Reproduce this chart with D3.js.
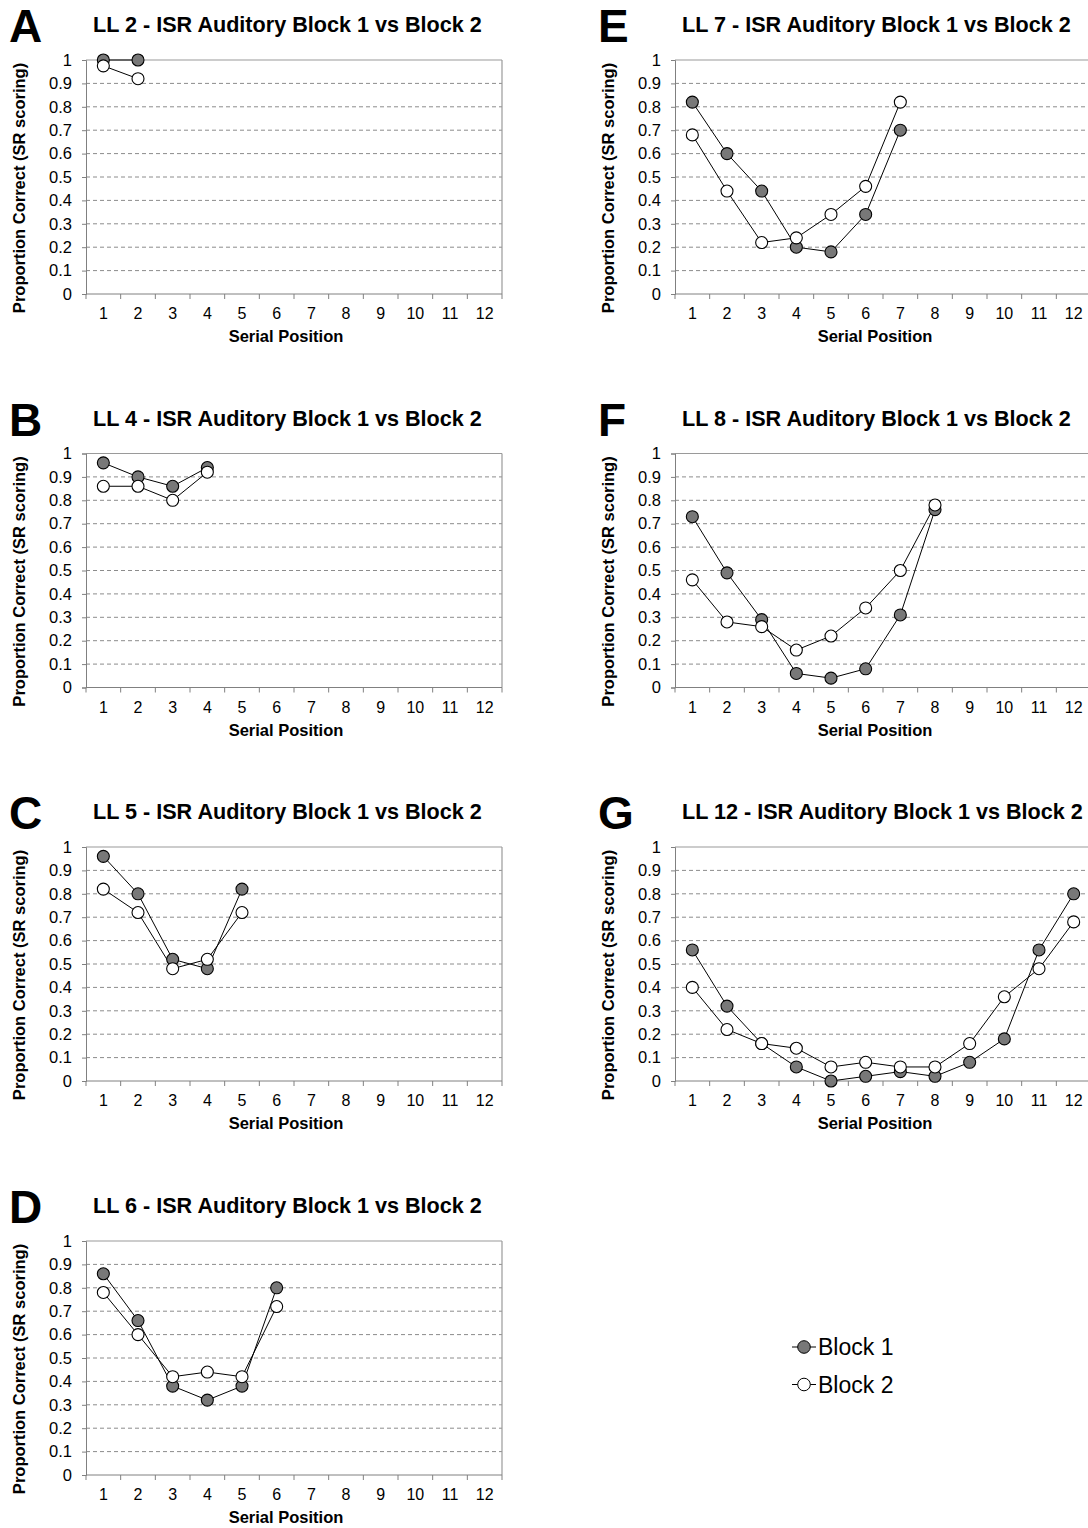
<!DOCTYPE html>
<html><head><meta charset="utf-8">
<script src="https://cdn.jsdelivr.net/npm/d3@7"></script>
<style>
body{margin:0;background:#fff;}
text{font-family:"Liberation Sans",Arial,sans-serif;fill:#000;}
</style></head>
<body>
<svg id="chart" width="1088" height="1528"></svg>
<script>
const categories = [1,2,3,4,5,6,7,8,9,10,11,12];
const yTicks = [0,0.1,0.2,0.3,0.4,0.5,0.6,0.7,0.8,0.9,1];
const panelLetters = ["A","B","C","D","E","F","G"];
const panelTitles = [
  "LL 2 - ISR Auditory Block 1 vs Block 2",
  "LL 4 - ISR Auditory Block 1 vs Block 2",
  "LL 5 - ISR Auditory Block 1 vs Block 2",
  "LL 6 - ISR Auditory Block 1 vs Block 2",
  "LL 7 - ISR Auditory Block 1 vs Block 2",
  "LL 8 - ISR Auditory Block 1 vs Block 2",
  "LL 12 - ISR Auditory Block 1 vs Block 2"
];
const block1 = [
  [1.00, 1.00],
  [0.96, 0.90, 0.86, 0.94],
  [0.96, 0.80, 0.52, 0.48, 0.82],
  [0.86, 0.66, 0.38, 0.32, 0.38, 0.80],
  [0.82, 0.60, 0.44, 0.20, 0.18, 0.34, 0.70],
  [0.73, 0.49, 0.29, 0.06, 0.04, 0.08, 0.31, 0.76],
  [0.56, 0.32, 0.16, 0.06, 0.00, 0.02, 0.04, 0.02, 0.08, 0.18, 0.56, 0.80]
];
const block2 = [
  [0.975, 0.92],
  [0.86, 0.86, 0.80, 0.92],
  [0.82, 0.72, 0.48, 0.52, 0.72],
  [0.78, 0.60, 0.42, 0.44, 0.42, 0.72],
  [0.68, 0.44, 0.22, 0.24, 0.34, 0.46, 0.82],
  [0.46, 0.28, 0.26, 0.16, 0.22, 0.34, 0.50, 0.78],
  [0.40, 0.22, 0.16, 0.14, 0.06, 0.08, 0.06, 0.06, 0.16, 0.36, 0.48, 0.68]
];
const seriesNames = ["Block 1","Block 2"];
const seriesFills = ["#787878","#ffffff"];

const svg = d3.select("#chart");
const W = 416, H = 234;
const colX = [86, 675];
const rowY = [60, 453.5, 847, 1241];

const x = d3.scaleBand().domain(categories).range([0, W]).paddingInner(0).paddingOuter(0);
const y = d3.scaleLinear().domain([0,1]).range([H,0]);

panelTitles.forEach((title, i) => {
  const col = i < 4 ? 0 : 1;
  const row = i < 4 ? i : i - 4;
  const g = svg.append("g").attr("transform", `translate(${colX[col]},${rowY[row]})`);

  // gridlines (dashed)
  g.selectAll(".grid").data(yTicks.filter(t => t > 0 && t < 1)).enter().append("line")
    .attr("x1", 0).attr("x2", W).attr("y1", d => y(d)).attr("y2", d => y(d))
    .attr("stroke", "#8c8c8c").attr("stroke-width", 1).attr("stroke-dasharray", "4,3");
  // plot border top/right
  g.append("line").attr("x1",0).attr("x2",W).attr("y1",y(1)).attr("y2",y(1)).attr("stroke","#9a9a9a").attr("stroke-width",1.2);
  g.append("line").attr("x1",W).attr("x2",W).attr("y1",y(1)).attr("y2",y(0)).attr("stroke","#9a9a9a").attr("stroke-width",1.2);

  // y axis
  const yAxis = d3.axisLeft(y).tickValues(yTicks).tickSize(4).tickPadding(10)
    .tickFormat(d => d3.format("")(+d.toFixed(1)));
  const ya = g.append("g").call(yAxis);
  ya.select(".domain").attr("stroke", "#808080");
  ya.selectAll(".tick line").attr("stroke", "#808080");
  ya.selectAll(".tick text").attr("font-size", 16.5).attr("font-family", '"Liberation Sans",Arial,sans-serif').attr("fill","#000");

  // x axis: labels at band centers, ticks at band boundaries
  const xa = g.append("g").attr("transform", `translate(0,${H})`);
  xa.append("line").attr("x1",0).attr("x2",W).attr("y1",0).attr("y2",0).attr("stroke","#808080");
  const bounds = categories.map(c => x(c)).concat([x(categories[categories.length-1]) + x.step()]);
  xa.selectAll(".xt").data(bounds).enter().append("line")
    .attr("x1", d => d).attr("x2", d => d).attr("y1", 0).attr("y2", 5).attr("stroke", "#808080");
  xa.selectAll(".xl").data(categories).enter().append("text")
    .attr("x", d => x(d) + x.bandwidth()/2).attr("y", 25)
    .attr("text-anchor","middle").attr("font-size",16).text(d => d);

  // axis titles
  g.append("text").attr("x", W/2 - 8).attr("y", H + 48).attr("text-anchor","middle")
    .attr("font-size", 16.5).attr("font-weight","bold").text("Serial Position");
  g.append("text").attr("transform", `translate(-61,${128}) rotate(-90)`).attr("text-anchor","middle")
    .attr("font-size", 16.5).attr("font-weight","bold").text("Proportion Correct (SR scoring)");

  // titles
  g.append("text").attr("x", 7).attr("y", -28).attr("font-size", 21.6).attr("font-weight","bold").text(title);
  g.append("text").attr("x", -77).attr("y", -18).attr("font-size", 46).attr("font-weight","bold").text(panelLetters[i]);

  // series
  const line = d3.line().x((d,j) => x(categories[j]) + x.bandwidth()/2).y(d => y(d));
  [block1[i], block2[i]].forEach((vals, s) => {
    g.append("path").datum(vals).attr("d", line).attr("fill","none").attr("stroke","#000").attr("stroke-width",1);
  });
  [block1[i], block2[i]].forEach((vals, s) => {
    g.selectAll(".pt"+s).data(vals).enter().append("circle")
      .attr("cx", (d,j) => x(categories[j]) + x.bandwidth()/2).attr("cy", d => y(d))
      .attr("r", 6).attr("fill", seriesFills[s]).attr("stroke","#000").attr("stroke-width",1.1);
  });
});

// legend
const lg = svg.append("g").attr("transform","translate(792,1347)");
seriesNames.forEach((name, s) => {
  const row = lg.append("g").attr("transform", `translate(0,${s*37.5})`);
  row.append("line").attr("x1",0).attr("x2",24).attr("y1",0).attr("y2",0).attr("stroke","#000").attr("stroke-width",1);
  row.append("circle").attr("cx",12).attr("cy",0).attr("r",6.3).attr("fill",seriesFills[s]).attr("stroke","#000").attr("stroke-width",1);
  row.append("text").attr("x",26).attr("y",8).attr("font-size",23).text(name);
});
</script>
</body></html>
